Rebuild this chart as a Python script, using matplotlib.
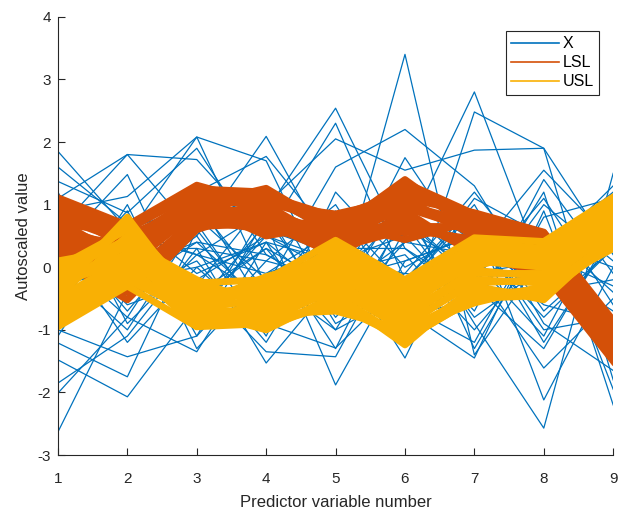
import numpy as np
import matplotlib
matplotlib.use("Agg")
import matplotlib.pyplot as plt
from matplotlib.lines import Line2D

plt.rcParams['font.family'] = ['Liberation Sans', 'DejaVu Sans']
plt.rcParams['axes.unicode_minus'] = False

variables = [1, 2, 3, 4, 5, 6, 7, 8, 9]

X = [
    [1.85, 0.6, 0.2, -0.5, 0.9, -0.3, 0.4, -0.8, 0.3],
    [1.6, 0.7, -0.4, 0.3, -1.0, 0.8, -0.2, 1.1, -0.6],
    [1.37, 0.87, 1.9, 0.2, -0.4, 1.75, 0.1, -1.1, 1.0],
    [1.1, 1.8, 1.72, 0.5, 2.3, -0.2, 0.9, 0.4, -1.4],
    [0.6, 1.8, 0.5, 2.09, 0.1, 0.5, 2.8, -0.1, 0.6],
    [0.3, 1.48, -0.9, 0.9, 2.54, 0.3, -0.6, 1.2, -2.2],
    [0.9, 1.13, 2.08, 1.7, -0.6, 3.4, -1.4, 0.2, -0.3],
    [-0.2, 0.5, 2.08, -0.3, 1.6, 2.2, 1.3, -0.5, 0.8],
    [-0.5, 0.2, 1.2, 1.77, 0.4, -0.9, 2.48, 1.9, -1.8],
    [0.2, -0.8, 0.9, 1.0, 2.05, 1.55, 1.87, 1.9, 0.2],
    [-2.63, -0.4, 0.1, -1.2, 0.6, -0.5, 0.2, 1.55, 0.4],
    [-2.01, -0.8, -1.35, 0.4, -1.3, 0.9, -0.9, -2.57, 1.5],
    [-1.85, -1.1, 0.3, -1.53, -0.2, 1.1, -1.3, 0.6, -1.1],
    [-1.48, -2.07, -0.6, 0.7, -1.88, 0.1, 0.5, -0.3, 0.9],
    [-1.21, -1.75, 0.6, -0.8, 0.3, -1.45, 0.8, -2.12, 0.0],
    [-1.0, -1.43, -1.1, 0.1, 1.0, -0.7, -1.45, 0.9, -1.95],
    [0.5, -0.6, -0.2, -1.35, -1.43, 0.6, 0.0, -1.61, -0.5],
    [0.0, -1.0, 0.7, -0.9, -1.29, -0.2, 1.0, -0.9, -1.65],
    [-0.8, 0.3, -0.7, 0.5, -0.1, 0.2, -1.0, 0.3, 1.2],
    [0.7, -0.3, 0.4, -0.6, 0.7, -1.1, 0.3, -0.6, -0.9],
    [-0.3, 0.9, -1.1, 0.8, -0.8, 0.4, 0.7, -1.2, 0.5],
    [1.0, -0.5, 0.8, -0.2, -1.0, -0.4, 1.1, 0.5, -1.3],
    [-0.6, 0.1, -0.3, 1.1, 0.5, -0.8, -0.5, 1.0, 0.1],
    [0.4, -1.2, 0.0, -1.0, 0.8, 0.7, -0.8, 0.0, 0.7],
    [-1.1, 0.6, 1.0, -0.4, -0.6, 1.2, 0.4, -0.4, -0.2],
    [0.8, 0.0, -0.8, 0.6, 0.2, -0.6, -1.2, 0.8, 1.1],
    [-0.4, -0.3, 0.5, -1.1, 1.2, 0.0, 0.6, -1.0, -0.8],
    [0.1, 0.4, -0.5, 0.3, -0.3, 1.0, -0.1, 0.1, -1.5],
    [1.2, -0.9, 0.2, 0.9, -0.9, -0.3, 0.9, -0.7, 0.3],
    [-0.7, 1.0, -1.3, -0.1, 0.6, 0.5, -0.7, 1.4, -0.1],
    [0.3, -0.1, 1.1, -0.7, 0.0, -1.2, 0.2, 0.2, 1.3],
    [-0.9, 0.8, -0.1, 0.4, -0.5, 0.8, -0.3, -1.3, 0.6],
    [0.6, -0.7, 0.6, 1.3, -0.7, -0.1, 1.2, -0.2, -1.0],
    [0.2, 0.3, 0.3, 0.1, -0.2, 0.1, 0.5, -0.2, 0.4],
    [-0.1, -0.2, 0.0, 0.4, 0.1, -0.5, -0.1, 0.6, -0.4],
    [0.4, 0.5, 0.2, -0.1, 0.3, 0.3, -0.4, -0.5, 0.9],
    [-0.3, 0.0, 0.4, 0.2, -0.4, 0.4, 0.2, 0.0, -0.7],
    [0.1, -0.4, -0.2, 0.5, 0.1, -0.1, -0.2, 0.4, 0.0],
]

# lower specification limits (bundle of lines)
LSL = [
    [1.11, 0.67, 1.31, 1.0, 0.85, 1.1, 0.87, 0.56, -0.85],
    [1.0, 0.5, 1.0, 1.26, 0.6, 1.4, 0.6, 0.45, -0.9],
    [0.12, -0.52, 0.6, 0.95, 0.16, 0.9, 0.2, -0.1, -1.5],
    [0.5, 0.2, 1.0, 0.5, 0.7, 0.44, 0.75, 0.3, -1.2],
    [0.3, -0.1, 0.7, 0.65, 0.3, 0.6, 0.45, 0.1, -1.35],
    [0.8, 0.4, 1.15, 1.1, 0.75, 1.2, 0.8, 0.5, -1.0],
    [0.6, 0.1, 0.85, 0.8, 0.4, 0.75, 0.35, 0.2, -1.25],
    [0.95, 0.3, 1.2, 0.9, 0.5, 1.3, 0.65, 0.35, -1.05],
    [0.4, 0.0, 0.9, 1.15, 0.55, 1.0, 0.55, 0.0, -1.4],
    [0.7, 0.55, 0.8, 0.7, 0.25, 0.8, 0.3, 0.4, -1.1],
    [0.2, -0.3, 0.75, 0.6, 0.8, 0.55, 0.7, 0.05, -1.45],
    [0.9, 0.6, 1.25, 1.2, 0.65, 1.35, 0.85, 0.55, -0.95],
    [0.85, 0.45, 1.1, 1.05, 0.7, 1.25, 0.75, 0.45, -1.0],
    [0.45, 0.15, 0.95, 0.85, 0.45, 0.95, 0.6, 0.25, -1.2],
    [0.65, 0.25, 1.05, 0.75, 0.6, 1.1, 0.5, 0.3, -1.15],
    [0.35, -0.2, 0.8, 1.0, 0.35, 0.7, 0.4, 0.15, -1.3],
    [1.05, 0.6, 1.2, 1.15, 0.8, 1.2, 0.8, 0.5, -0.95],
    [0.55, 0.35, 0.75, 0.9, 0.5, 0.65, 0.65, 0.2, -1.3],
    [0.25, -0.4, 0.65, 0.7, 0.2, 0.8, 0.25, 0.0, -1.4],
    [0.75, 0.1, 1.1, 0.6, 0.4, 1.0, 0.7, 0.35, -1.1],
]

# upper specification limits (bundle of lines)
USL = [
    [-0.37, 0.8, -0.66, -0.5, 0.1, -0.6, 0.1, 0.0, 0.8],
    [0.1, 0.3, -0.25, -0.2, 0.43, -0.2, 0.47, 0.41, 1.12],
    [-0.95, -0.3, -0.95, -0.75, -0.7, -1.0, -0.57, -0.3, 0.3],
    [-0.6, -0.1, -0.7, -1.0, -0.45, -1.24, -0.3, -0.52, 0.5],
    [-0.1, 0.45, -0.4, -0.35, 0.25, -0.35, 0.3, 0.25, 1.0],
    [-0.5, 0.15, -0.55, -0.6, -0.1, -0.8, -0.1, -0.1, 0.7],
    [-0.75, 0.0, -0.85, -0.85, -0.35, -1.0, -0.45, -0.35, 0.45],
    [0.0, 0.6, -0.45, -0.3, 0.3, -0.45, 0.4, 0.3, 0.95],
    [-0.3, 0.35, -0.3, -0.5, 0.0, -0.7, 0.2, 0.1, 0.85],
    [-0.85, -0.2, -0.75, -0.95, -0.55, -1.1, -0.35, -0.45, 0.4],
    [-0.2, 0.65, -0.6, -0.15, 0.15, -0.25, 0.0, 0.35, 1.05],
    [-0.65, 0.25, -0.9, -0.7, -0.2, -0.95, -0.2, -0.25, 0.6],
    [-0.45, 0.5, -0.55, -0.4, 0.2, -0.55, 0.25, 0.15, 0.9],
    [-0.15, 0.2, -0.35, -0.45, 0.35, -0.3, 0.35, 0.2, 0.8],
    [-0.55, 0.1, -0.65, -0.75, -0.25, -0.9, -0.25, -0.2, 0.55],
    [-0.8, -0.1, -0.8, -0.6, -0.45, -1.15, -0.5, -0.4, 0.35],
    [-0.35, 0.7, -0.5, -0.25, -0.05, -0.5, 0.15, 0.05, 0.75],
    [-0.05, 0.4, -0.2, -0.65, 0.05, -0.6, 0.05, 0.25, 1.1],
    [-0.7, 0.05, -0.95, -0.9, -0.6, -1.15, -0.5, -0.45, 0.45],
    [-0.25, 0.1, -0.45, -0.35, -0.3, -0.75, -0.05, -0.15, 0.65],
]

c_x = '#0072BD'
c_lsl = '#D45008'
c_usl = '#F9B004'

fig = plt.figure(figsize=(6.2, 5.09), dpi=100)
ax = fig.add_axes([0.0935, 0.106, 0.8955, 0.861])

for row in X:
    ax.plot(variables, row, color=c_x, lw=0.9, zorder=2)
for row in LSL:
    ax.plot(variables, row, color=c_lsl, lw=5, zorder=3)
for row in USL:
    ax.plot(variables, row, color=c_usl, lw=5, zorder=4)

ax.set_xlim(1, 9)
ax.set_ylim(-3, 4)
ax.set_xticks(variables)
ax.set_yticks(range(-3, 5))
ax.spines['top'].set_visible(False)
ax.spines['right'].set_visible(False)
for s in ['left', 'bottom']:
    ax.spines[s].set_color('#262626')
    ax.spines[s].set_linewidth(0.8)
    ax.spines[s].set_zorder(5)
ax.tick_params(direction='in', length=5, width=0.8, colors='#262626',
               labelsize=11, labelcolor='#262626')
ax.tick_params(axis='x', pad=12)
ax.tick_params(axis='y', pad=5)
ax.set_xlabel('Predictor variable number', fontsize=12, color='#262626', labelpad=7)
ax.set_ylabel('Autoscaled value', fontsize=12, color='#262626', labelpad=5)

handles = [Line2D([], [], color=c_x, lw=1.2),
           Line2D([], [], color=c_lsl, lw=1.2),
           Line2D([], [], color=c_usl, lw=1.2)]
leg = ax.legend(handles, ['X', 'LSL', 'USL'], loc='upper right',
                bbox_to_anchor=(0.975, 0.968), borderaxespad=0, fontsize=11.5,
                fancybox=False, framealpha=1, edgecolor='#262626', handlelength=3.0,
                borderpad=0.35, labelspacing=0.25, handletextpad=0.2)
leg.get_frame().set_linewidth(0.8)
leg.set_zorder(10)

fig.savefig('out.png', dpi=100)
